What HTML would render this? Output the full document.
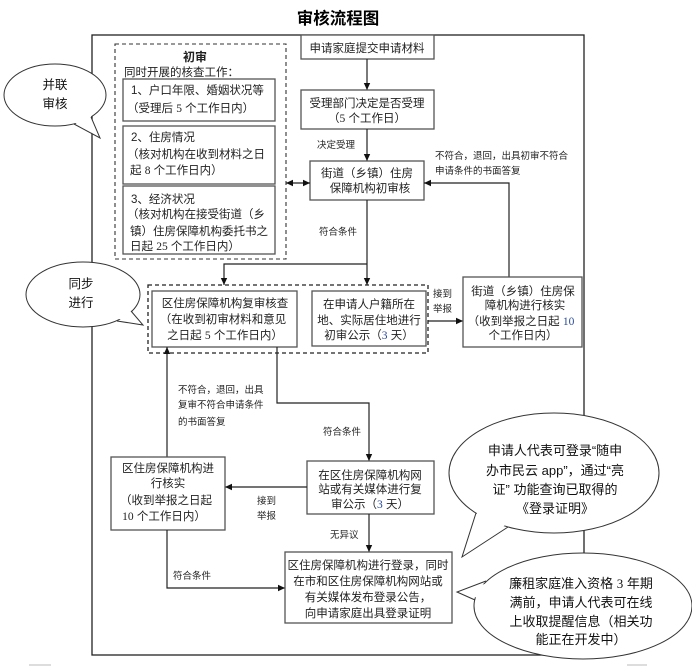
<!DOCTYPE html>
<html><head><meta charset="utf-8"><style>
html,body{margin:0;padding:0;background:#fff;}
svg{display:block;}
text{font-family:"Liberation Sans","Noto Sans CJK SC",sans-serif;fill:#222;}
.b{font-size:11.5px;}
.l{font-size:9.5px;}
.bu{font-size:13px;fill:#111;}
.n{font-family:"Liberation Serif","Noto Serif CJK SC",serif;}
</style></head><body>
<svg width="692" height="666" viewBox="0 0 692 666" xmlns="http://www.w3.org/2000/svg">
<defs>
<marker id="ar" markerWidth="8" markerHeight="8" refX="7" refY="4" orient="auto" markerUnits="userSpaceOnUse">
<path d="M0,0.8 L7,4 L0,7.2 z" fill="#111"/>
</marker>
<marker id="as" markerWidth="8" markerHeight="8" refX="1" refY="4" orient="auto" markerUnits="userSpaceOnUse">
<path d="M8,0.8 L1,4 L8,7.2 z" fill="#111"/>
</marker>
</defs>

<!-- title -->
<text x="338" y="24" text-anchor="middle" style="font-size:16.5px;font-weight:bold;fill:#000">审核流程图</text>

<!-- outer frame -->
<rect x="92" y="35" width="492" height="620" fill="none" stroke="#222" stroke-width="1.3"/>

<!-- 初审 dashed group -->
<rect x="115" y="44" width="171" height="215" fill="none" stroke="#333" stroke-width="1.1" stroke-dasharray="4,3"/>
<text x="195" y="61" text-anchor="middle" style="font-size:12px;font-weight:bold">初审</text>
<text x="124" y="76" class="b">同时开展的核查工作：</text>
<rect x="123" y="79" width="152" height="42" fill="#fff" stroke="#555" stroke-width="1.3"/>
<text x="131" y="94" class="b">1、户口年限、婚姻状况等</text>
<text x="127" y="112" class="b">（受理后 <tspan class="n">5</tspan> 个工作日内）</text>
<rect x="123" y="126" width="152" height="58" fill="#fff" stroke="#555" stroke-width="1.3"/>
<text x="131" y="141" class="b">2、住房情况</text>
<text x="127" y="158" class="b">（核对机构在收到材料之日</text>
<text x="130" y="174" class="b">起 <tspan class="n">8</tspan> 个工作日内）</text>
<rect x="123" y="186" width="152" height="68" fill="#fff" stroke="#555" stroke-width="1.3"/>
<text x="131" y="203" class="b">3、经济状况</text>
<text x="127" y="218" class="b">（核对机构在接受街道（乡</text>
<text x="130" y="235" class="b">镇）住房保障机构委托书之</text>
<text x="130" y="250" class="b">日起 <tspan class="n">25</tspan> 个工作日内）</text>

<!-- right column top -->
<rect x="301" y="35" width="133" height="24" fill="#fff" stroke="#555" stroke-width="1.3"/>
<text x="367" y="52" text-anchor="middle" class="b">申请家庭提交申请材料</text>
<line x1="367" y1="59" x2="367" y2="90" stroke="#222" stroke-width="1.2" marker-end="url(#ar)"/>
<rect x="301" y="90" width="133" height="39" fill="#fff" stroke="#555" stroke-width="1.3"/>
<text x="367" y="107" text-anchor="middle" class="b">受理部门决定是否受理</text>
<text x="367" y="122" text-anchor="middle" class="b">（<tspan class="n">5</tspan> 个工作日）</text>
<text x="317" y="148" class="l">决定受理</text>
<line x1="367" y1="129" x2="367" y2="161" stroke="#222" stroke-width="1.2" marker-end="url(#ar)"/>
<rect x="310" y="161" width="114" height="39" fill="#fff" stroke="#555" stroke-width="1.3"/>
<text x="367" y="177" text-anchor="middle" class="b">街道（乡镇）住房</text>
<text x="370" y="192" text-anchor="middle" class="b">保障机构初审核</text>

<!-- bidirectional arrow -->
<line x1="286" y1="183" x2="310" y2="183" stroke="#222" stroke-width="1.2" marker-start="url(#as)" marker-end="url(#ar)"/>

<text x="435" y="159" class="l">不符合，退回，出具初审不符合</text>
<text x="435" y="174" class="l">申请条件的书面答复</text>
<polyline points="509,277 509,183 424,183" fill="none" stroke="#222" stroke-width="1.2" marker-end="url(#ar)"/>

<text x="319" y="235" class="l">符合条件</text>
<line x1="367" y1="200" x2="367" y2="285" stroke="#222" stroke-width="1.2" marker-end="url(#ar)"/>
<polyline points="367,264 224,264 224,285" fill="none" stroke="#222" stroke-width="1.2" marker-end="url(#ar)"/>

<!-- 同步 dashed group -->
<rect x="148" y="285" width="280" height="68" fill="none" stroke="#222" stroke-width="1.3" stroke-dasharray="4,3"/>
<rect x="152" y="291" width="145" height="56" fill="#fff" stroke="#555" stroke-width="1.3"/>
<text x="225" y="307" text-anchor="middle" class="b">区住房保障机构复审核查</text>
<text x="223" y="323" text-anchor="middle" class="b">（在收到初审材料和意见</text>
<text x="225" y="339" text-anchor="middle" class="b">之日起 <tspan class="n">5</tspan> 个工作日内）</text>
<rect x="312" y="291" width="114" height="55" fill="#fff" stroke="#555" stroke-width="1.3"/>
<text x="369" y="308" text-anchor="middle" class="b">在申请人户籍所在</text>
<text x="369" y="324" text-anchor="middle" class="b">地、实际居住地进行</text>
<text x="369" y="339" text-anchor="middle" class="b">初审公示（<tspan class="n" style="fill:#2a4a9a">3</tspan> 天）</text>

<text x="433" y="297" class="l">接到</text>
<text x="433" y="312" class="l">举报</text>
<line x1="428" y1="321" x2="463" y2="321" stroke="#222" stroke-width="1.2" marker-end="url(#ar)"/>
<rect x="463" y="277" width="119" height="70" fill="#fff" stroke="#555" stroke-width="1.3"/>
<text x="523" y="295" text-anchor="middle" class="b">街道（乡镇）住房保</text>
<text x="525" y="309" text-anchor="middle" class="b">障机构进行核实</text>
<text x="521" y="325" text-anchor="middle" class="b">（收到举报之日起 <tspan class="n" style="fill:#2a4a9a">10</tspan></text>
<text x="523" y="339" text-anchor="middle" class="b">个工作日内）</text>

<!-- review branch -->
<polyline points="277,347 277,403 369,403 369,461" fill="none" stroke="#222" stroke-width="1.2" marker-end="url(#ar)"/>
<text x="323" y="435" class="l">符合条件</text>
<line x1="167" y1="457" x2="167" y2="347" stroke="#222" stroke-width="1.2" marker-end="url(#ar)"/>
<text x="178" y="393" class="l">不符合，退回，出具</text>
<text x="178" y="408" class="l">复审不符合申请条件</text>
<text x="178" y="425" class="l">的书面答复</text>

<rect x="307" y="461" width="127" height="53" fill="#fff" stroke="#555" stroke-width="1.3"/>
<text x="370" y="479" text-anchor="middle" class="b">在区住房保障机构网</text>
<text x="370" y="493" text-anchor="middle" class="b">站或有关媒体进行复</text>
<text x="370" y="508" text-anchor="middle" class="b">审公示（<tspan class="n" style="fill:#2a4a9a">3</tspan> 天）</text>

<line x1="307" y1="487" x2="225" y2="487" stroke="#222" stroke-width="1.2" marker-end="url(#ar)"/>
<text x="257" y="504" class="l">接到</text>
<text x="257" y="519" class="l">举报</text>

<rect x="111" y="457" width="114" height="73" fill="#fff" stroke="#555" stroke-width="1.3"/>
<text x="168" y="472" text-anchor="middle" class="b">区住房保障机构进</text>
<text x="168" y="487" text-anchor="middle" class="b">行核实</text>
<text x="166" y="504" text-anchor="middle" class="b">（收到举报之日起</text>
<text x="164" y="520" text-anchor="middle" class="b"><tspan class="n">10</tspan> 个工作日内）</text>

<text x="330" y="538" class="l">无异议</text>
<line x1="369" y1="514" x2="369" y2="552" stroke="#222" stroke-width="1.2" marker-end="url(#ar)"/>

<polyline points="167,530 167,588 285,588" fill="none" stroke="#222" stroke-width="1.2" marker-end="url(#ar)"/>
<text x="173" y="579" class="l">符合条件</text>

<rect x="285" y="552" width="167" height="71" fill="#fff" stroke="#555" stroke-width="1.3"/>
<text x="368" y="569" text-anchor="middle" class="b">区住房保障机构进行登录，同时</text>
<text x="368" y="585" text-anchor="middle" class="b">在市和区住房保障机构网站或</text>
<text x="368" y="601" text-anchor="middle" class="b">有关媒体发布登录公告，</text>
<text x="368" y="617" text-anchor="middle" class="b">向申请家庭出具登录证明</text>

<!-- bubble 1 -->
<ellipse cx="55" cy="95" rx="51" ry="31" fill="#fff" stroke="#333" stroke-width="1"/>
<polygon points="72,121 100,138 90,114" fill="#fff" stroke="none"/>
<polyline points="74,124 100,138 91,117" fill="none" stroke="#333" stroke-width="1"/>
<text x="55" y="89" text-anchor="middle" style="font-size:12.5px;fill:#111">并联</text>
<text x="55" y="108" text-anchor="middle" style="font-size:12.5px;fill:#111">审核</text>

<!-- bubble 2 -->
<ellipse cx="83" cy="294.5" rx="57" ry="32.5" fill="#fff" stroke="#333" stroke-width="1"/>
<polygon points="115,318 143,325 129,309" fill="#fff" stroke="none"/>
<polyline points="117,321 143,325 131,311" fill="none" stroke="#333" stroke-width="1"/>
<text x="81" y="288" text-anchor="middle" style="font-size:12.5px;fill:#111">同步</text>
<text x="81" y="307" text-anchor="middle" style="font-size:12.5px;fill:#111">进行</text>

<!-- bubble 3 -->
<ellipse cx="554" cy="473" rx="105" ry="60" fill="#fff" stroke="#333" stroke-width="1"/>
<polygon points="478,510 462,557 508,523" fill="#fff" stroke="none"/>
<polyline points="476,513 462,557 508,527" fill="none" stroke="#333" stroke-width="1"/>
<text x="555" y="455" text-anchor="middle" class="bu">申请人代表可登录“随申</text>
<text x="555" y="475" text-anchor="middle" class="bu">办市民云 app”，通过“亮</text>
<text x="555" y="494" text-anchor="middle" class="bu">证” 功能查询已取得的</text>
<text x="555" y="513" text-anchor="middle" class="bu">《登录证明》</text>

<!-- bubble 4 -->
<ellipse cx="583" cy="606" rx="109" ry="53" fill="#fff" stroke="#333" stroke-width="1"/>
<polygon points="488,583 457,592 478,598" fill="#fff" stroke="none"/>
<polyline points="486,581 457,592 475,600" fill="none" stroke="#333" stroke-width="1"/>
<text x="581" y="588" text-anchor="middle" class="bu">廉租家庭准入资格 <tspan class="n">3</tspan> 年期</text>
<text x="581" y="607" text-anchor="middle" class="bu">满前，申请人代表可在线</text>
<text x="581" y="626" text-anchor="middle" class="bu">上收取提醒信息（相关功</text>
<text x="581" y="644" text-anchor="middle" class="bu">能正在开发中）</text>

<!-- faint bottom marks -->
<line x1="29" y1="665" x2="51" y2="665" stroke="#bbb" stroke-width="1"/>
<line x1="627" y1="665" x2="647" y2="665" stroke="#bbb" stroke-width="1"/>
</svg>
</body></html>
